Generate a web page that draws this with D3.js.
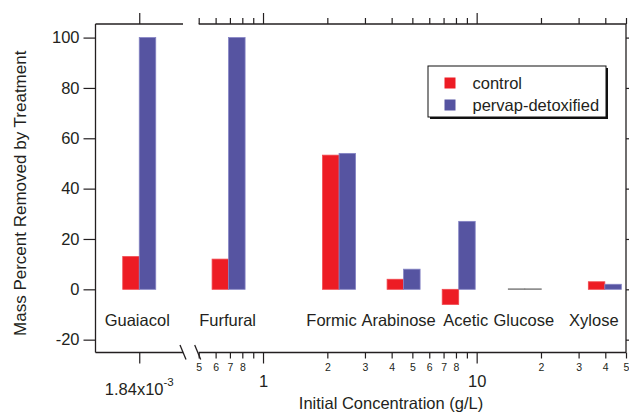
<!DOCTYPE html>
<html>
<head>
<meta charset="utf-8">
<script src="https://cdn.jsdelivr.net/npm/d3@7"></script>
<style>
  body { margin: 0; background: #fff; }
  text { font-family: "Liberation Sans", Arial, sans-serif; fill: #231f20; }
</style>
</head>
<body>
<div id="removal_chart"></div>
<script>
// data
const compounds = ["Guaiacol", "Furfural", "Formic", "Arabinose", "Acetic", "Glucose", "Xylose"];
const concentration = [1.84e-3, 0.69, 2.27, 4.55, 8.24, 16.8, 39.8]; // g/L
const control = [13, 12, 53.3, 4, -6, 0.2, 3];
const pervap = [100, 100, 54, 8, 27, 0.2, 2];
const seriesNames = ["control", "pervap-detoxified"];
const yTicks = [-20, 0, 20, 40, 60, 80, 100];
const minorTicks = [0.5, 0.6, 0.7, 0.8, 0.9, 2, 3, 4, 5, 6, 7, 8, 9, 20, 30, 40, 50];
const minorLabels = ["5", "6", "7", "8", "", "2", "3", "4", "5", "6", "7", "8", "", "2", "3", "4", "5"];
const majorTicks = [1, 10];
const majorLabels = ["1", "10"];
const leftTicks = [1.84e-3];

// small nudges so the compound names don't collide
const labelNudge = [-2, -1, -7.5, -5, 7, -1, -11];

const colors = { control: "#ed1c24", pervap: "#5654a1" };
const strokes = { control: "#f0484e", pervap: "#8483c4" };

const W = 629, H = 413;
const plot = { left: 95.5, right: 626, top: 24, bottom: 352.5 };
const gap = { end: 183, start: 198.7 };
const bw = 16.5;

const svg = d3.select("#removal_chart")
  .append("svg")
  .attr("width", W)
  .attr("height", H);

// scales
const y = d3.scaleLinear().domain([-25.1, 105.4]).range([plot.bottom, plot.top]);
const xRight = d3.scaleLog().domain([0.5, 50]).range([gap.start, plot.right]);
const k = Math.pow(10, 44 / 213.7);
const xLeft = d3.scaleLog().domain([1.84e-3 / k, 1.84e-3 * k]).range([plot.left, gap.end]);
const xPos = (c) => (c < 0.5 ? xLeft(c) : xRight(c));

const axisStroke = "#231f20";

// bars
const bars = svg.append("g");
compounds.forEach((name, i) => {
  const cx = xPos(concentration[i]);
  [[control[i], "control", cx - bw], [pervap[i], "pervap", cx]].forEach(([v, key, x0]) => {
    const y0 = y(0), y1 = y(v);
    const h = Math.abs(y1 - y0);
    bars.append("rect")
      .attr("x", x0)
      .attr("y", Math.min(y0, y1))
      .attr("width", bw)
      .attr("height", Math.max(0.6, h))
      .attr("fill", h < 1.5 ? "#ddd" : colors[key])
      .attr("stroke", h < 1.5 ? "#777" : strokes[key])
      .attr("stroke-width", 0.8);
  });
});

// compound labels
svg.append("g").selectAll("text")
  .data(compounds)
  .join("text")
  .attr("x", (d, i) => xPos(concentration[i]) + labelNudge[i])
  .attr("y", 326)
  .attr("text-anchor", "middle")
  .style("font-size", "16.5px")
  .text(d => d);

// left y axis
const yAxis = svg.append("g")
  .attr("transform", `translate(${plot.left},0)`)
  .call(d3.axisLeft(y).tickValues(yTicks).tickSize(12).tickPadding(4).tickFormat(d => String(d)));
yAxis.select(".domain").remove();
yAxis.selectAll("line").attr("stroke", axisStroke).attr("stroke-width", 1.2);
yAxis.selectAll("text").style("font-size", "16.5px").attr("font-family", null);

// right y axis (ticks outward, mostly clipped)
const yAxisR = svg.append("g")
  .attr("transform", `translate(${plot.right},0)`)
  .call(d3.axisRight(y).tickValues(yTicks).tickSize(8).tickFormat(""));
yAxisR.select(".domain").remove();
yAxisR.selectAll("line").attr("stroke", axisStroke).attr("stroke-width", 1.2);

// bottom axis - right (log) segment
function styleAxis(g) {
  g.select(".domain").remove();
  g.selectAll("line").attr("stroke", axisStroke).attr("stroke-width", 1.2);
  g.selectAll("text").attr("font-family", null);
}
const bMinor = svg.append("g")
  .attr("transform", `translate(0,${plot.bottom})`)
  .call(d3.axisBottom(xRight).tickValues(minorTicks).tickSize(6).tickPadding(5.5)
    .tickFormat((d, i) => minorLabels[i]));
styleAxis(bMinor);
bMinor.selectAll("text").style("font-size", "10.5px");

const bMajor = svg.append("g")
  .attr("transform", `translate(0,${plot.bottom})`)
  .call(d3.axisBottom(xRight).tickValues(majorTicks).tickSize(11).tickPadding(11.5)
    .tickFormat((d, i) => majorLabels[i]));
styleAxis(bMajor);
bMajor.selectAll("text").style("font-size", "16.5px");

// bottom axis - left segment
const bLeft = svg.append("g")
  .attr("transform", `translate(0,${plot.bottom})`)
  .call(d3.axisBottom(xLeft).tickValues(leftTicks).tickSize(11).tickFormat(""));
styleAxis(bLeft);
const lbl = svg.append("text")
  .attr("x", xLeft(leftTicks[0]))
  .attr("y", 395)
  .attr("text-anchor", "middle")
  .style("font-size", "16.5px");
lbl.append("tspan").text("1.84x10");
lbl.append("tspan").attr("dy", -9).style("font-size", "11.5px").text("-3");

// top axis
const tMinor = svg.append("g")
  .attr("transform", `translate(0,${plot.top})`)
  .call(d3.axisTop(xRight).tickValues(minorTicks).tickSize(6).tickFormat(""));
styleAxis(tMinor);
const tMajor = svg.append("g")
  .attr("transform", `translate(0,${plot.top})`)
  .call(d3.axisTop(xRight).tickValues(majorTicks).tickSize(11).tickFormat(""));
styleAxis(tMajor);
const tLeft = svg.append("g")
  .attr("transform", `translate(0,${plot.top})`)
  .call(d3.axisTop(xLeft).tickValues(leftTicks).tickSize(11).tickFormat(""));
styleAxis(tLeft);

// frame lines (broken x axis)
const frame = svg.append("g")
  .attr("stroke", axisStroke)
  .attr("stroke-width", 1.3)
  .attr("fill", "none");
[[plot.left, gap.end], [gap.start, plot.right]].forEach(([a, b]) => {
  frame.append("line").attr("x1", a).attr("x2", b).attr("y1", plot.bottom).attr("y2", plot.bottom);
  frame.append("line").attr("x1", a).attr("x2", b).attr("y1", plot.top).attr("y2", plot.top);
});
frame.append("line").attr("x1", plot.left).attr("x2", plot.left).attr("y1", plot.top).attr("y2", plot.bottom);
frame.append("line").attr("x1", plot.right).attr("x2", plot.right).attr("y1", plot.top).attr("y2", plot.bottom);
// break marks
[gap.end - 3, gap.start - 4].forEach(x0 => {
  frame.append("line")
    .attr("x1", x0).attr("y1", plot.bottom - 7.5)
    .attr("x2", x0 + 6).attr("y2", plot.bottom + 7);
});

// axis titles
svg.append("text")
  .attr("transform", `translate(25.5,${(plot.top + plot.bottom) / 2 + 5}) rotate(-90)`)
  .attr("text-anchor", "middle")
  .style("font-size", "17px")
  .text("Mass Percent Removed by Treatment");

svg.append("text")
  .attr("x", 391)
  .attr("y", 409)
  .attr("text-anchor", "middle")
  .style("font-size", "16.5px")
  .text("Initial Concentration (g/L)");

// legend
const legend = svg.append("g").attr("transform", "translate(428,66)");
legend.append("rect")
  .attr("x", 2).attr("y", 2).attr("width", 178).attr("height", 51)
  .attr("fill", "#111");
legend.append("rect")
  .attr("width", 178).attr("height", 51)
  .attr("fill", "#fff").attr("stroke", "#111").attr("stroke-width", 1);
seriesNames.forEach((name, i) => {
  const key = i === 0 ? "control" : "pervap";
  legend.append("rect")
    .attr("x", 16.5).attr("y", 11.5 + i * 22)
    .attr("width", 11).attr("height", 11)
    .attr("fill", colors[key]);
  legend.append("text")
    .attr("x", 44.5).attr("y", 17 + i * 22)
    .attr("dy", "0.35em")
    .style("font-size", "16.5px")
    .text(name);
});
</script>
</body>
</html>
